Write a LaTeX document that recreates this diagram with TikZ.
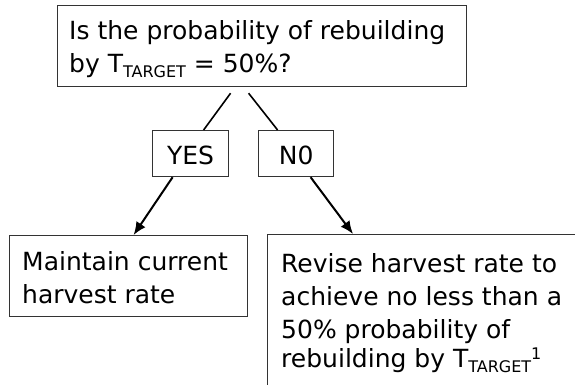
\documentclass[tikz,border=0pt]{standalone}
\usepackage{fontspec}
\setmainfont{DejaVu Sans}
\usetikzlibrary{arrows.meta,calc}
\newcommand\subT{\raisebox{-5pt}{\fontsize{16}{16}\selectfont TARGET}}
\newcommand\supOne{\raisebox{8pt}{\fontsize{16}{16}\selectfont 1}}
\begin{document}
\begin{tikzpicture}[x=1pt,y=-1pt,
  box/.style={draw=black!80, line width=1.2pt, rectangle, inner sep=0pt, anchor=north west},
  bigfont/.style={font=\fontsize{25}{33}\selectfont},
  txt/.style={inner sep=0pt, anchor=base west, bigfont},
  link/.style={line width=1.6pt},
  arr/.style={line width=2pt, -{Latex[length=13pt,width=11pt]}}]
\clip (0,0) rectangle (575,384);
\fill[white] (0,0) rectangle (575,384);
% boxes
\node[box, minimum width=409pt, minimum height=81pt] (q) at (57,5) {};
\node[box, bigfont, minimum width=76pt, minimum height=46pt, text height=22pt, text depth=0pt] (yes) at (152,130) {YES};
\node[box, bigfont, minimum width=75pt, minimum height=46pt, text height=22pt, text depth=0pt] (no) at (258,130) {N0};
\node[box, minimum width=238pt, minimum height=81pt] (L) at (9,235) {};
\node[box, minimum width=330pt, minimum height=170pt] (R) at (267,234) {};
% texts
\node[txt] (qt) at (69,39) {\begin{tabular}[t]{@{}l@{}}Is the probability of rebuilding\\ by T\subT{} = 50\%?\end{tabular}};
\node[txt] (Lt) at (22,270) {\begin{tabular}[t]{@{}l@{}}Maintain current\\ harvest rate\end{tabular}};
\node[txt] (Rt) at (281,272) {\begin{tabular}[t]{@{}l@{}}Revise harvest rate to\\ achieve no less than a\\ 50\% probability of\\[-4pt] rebuilding by T\subT\supOne\end{tabular}};
% connectors
\draw[link] ($(q.south)+(-31.5,6)$) -- ($(yes.north)+(13,0)$);
\draw[link] ($(q.south)+(-13.5,6)$) -- ($(no.north)+(-18.5,0)$);
\draw[arr] ($(yes.south)+(-18,0)$) -- ($(L.north)+(5,0)$);
\draw[arr] ($(no.south)+(14.5,0)$) -- ($(R.north west)+(86,0)$);
\end{tikzpicture}
\end{document}
